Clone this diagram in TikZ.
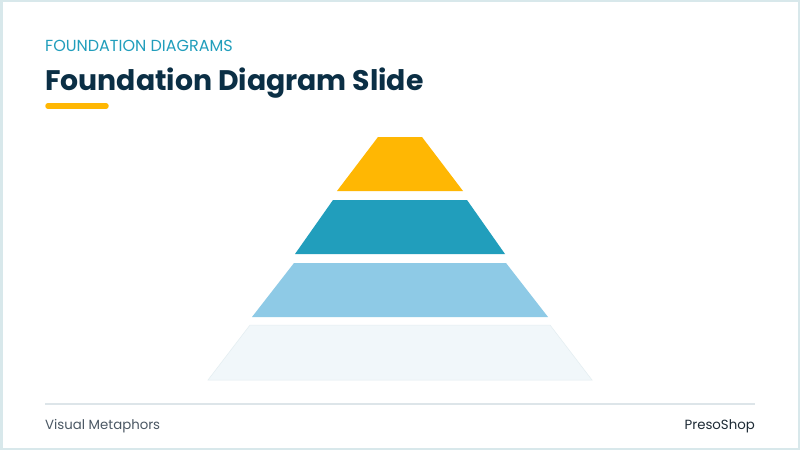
\documentclass[tikz,border=0pt]{standalone}
\usepackage{fontspec}
\setmainfont{Poppins}
\usetikzlibrary{calc}
\definecolor{framecol}{HTML}{D8E8EB}
\definecolor{navy}{HTML}{0B2F45}
\definecolor{teal}{HTML}{219EBC}
\definecolor{sky}{HTML}{8ECAE6}
\definecolor{pale}{HTML}{F1F7FA}
\definecolor{paleedge}{HTML}{E3EDF1}
\definecolor{amber}{HTML}{FFB703}
\definecolor{rulecol}{HTML}{DDE5E9}
\definecolor{footgray}{HTML}{4B5864}
\definecolor{footdark}{HTML}{1E2B36}
% layer: fill, top y, bottom y, top half width, bottom half width
\def\layer[#1](#2:#3:#4:#5){\fill[#1] (400-#4, #2) -- (400+#4, #2) -- (400+#5, #3) -- (400-#5, #3) -- cycle;}

\begin{document}
\begin{tikzpicture}[x=1pt, y=-1pt]
			%%%%% START %%%%%
			\useasboundingbox (0, 0) rectangle (800, 450);
			
			\fill[framecol] (0, 0) rectangle (800, 450);
			\fill[white] (2.5, 2) rectangle (797.5, 448);
			
			\node[anchor=base west, inner sep=0, color=teal, font=\fontsize{16}{19}\selectfont] (kicker) at (45, 51.5) {FOUNDATION DIAGRAMS};
			\node[anchor=base west, inner sep=0, color=navy, font=\fontsize{28.3}{34}\selectfont\bfseries] (title) at (45, 90.5) {Foundation Diagram Slide};
			\draw[line width=5.5pt, color=amber, line cap=round] (48, 106) -- (106, 106);
			
			\layer[amber](137:191:22:63)
			\layer[teal](200:254:67:105)
			\layer[sky](263:317:106:148)
			\layer[pale](325:380:150:192)
			\draw[line width=0.5pt, color=paleedge] (250, 325) -- (550, 325) -- (592, 380) -- (208, 380) -- cycle;
			
			\draw[line width=1.5pt, color=rulecol] (45, 404) -- (755, 404);
			\node[anchor=base west, inner sep=0, color=footgray, font=\fontsize{13.3}{16}\selectfont] (topic) at (45, 429) {Visual Metaphors};
			\node[anchor=base east, inner sep=0, color=footdark, font=\fontsize{13.3}{16}\selectfont] (brand) at (755, 429) {PresoShop};
			
			%%%%% END %%%%%
\end{tikzpicture}
\end{document}
